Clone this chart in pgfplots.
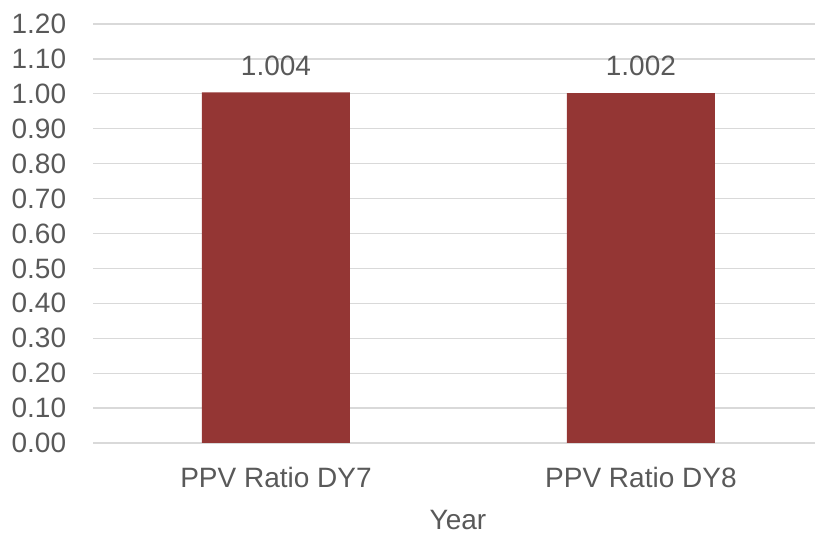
\documentclass[border=0pt]{standalone}
\usepackage{pgfplots}
\pgfplotsset{compat=1.18}
\usepackage{fontspec}
\setmainfont{Liberation Sans}
\definecolor{barred}{HTML}{943634}
\definecolor{txt}{HTML}{595959}
\definecolor{gridgray}{HTML}{D9D9D9}
\begin{document}
\begin{tikzpicture}
\useasboundingbox (-46.75pt,-46pt) rectangle (360.75pt,221.5pt);
\begin{axis}[
  at={(0,0)}, anchor=south west,
  scale only axis,
  width=360.75pt, height=209.5pt,
  xmin=-0.5, xmax=1.477,
  ymin=0, ymax=1.2,
  ytick={0,0.1,...,1.21},
  xtick={0,1},
  xticklabels={PPV Ratio DY7, PPV Ratio DY8},
  axis line style={draw=none},
  major tick length=0pt,
  ymajorgrids, xmajorgrids=false,
  grid style={draw=gridgray, line width=0.6pt},
  font=\fontsize{14}{17}\selectfont,
  tick label style={text=txt},
  /pgf/number format/assume math mode=true,
  yticklabel style={/pgf/number format/.cd, fixed, fixed zerofill, precision=2, /tikz/.cd, anchor=east, inner sep=0pt, xshift=-13.5pt},
  xticklabel style={anchor=base, inner sep=0pt, yshift=-22.5pt},
  xlabel={Year},
  xlabel style={at={(axis description cs:0.5052,0)}, anchor=base, inner sep=0pt, yshift=-43.5pt, text=txt},
  clip=false,
]
\addplot[ybar, bar width=74pt, fill=barred, draw=none,
  nodes near coords,
  nodes near coords style={text=txt, anchor=base, inner sep=0pt, yshift=8.7pt,
    /pgf/number format/.cd, fixed, fixed zerofill, precision=3, assume math mode=true},
] coordinates {(0,1.004) (1,1.002)};
\end{axis}
\end{tikzpicture}
\end{document}
